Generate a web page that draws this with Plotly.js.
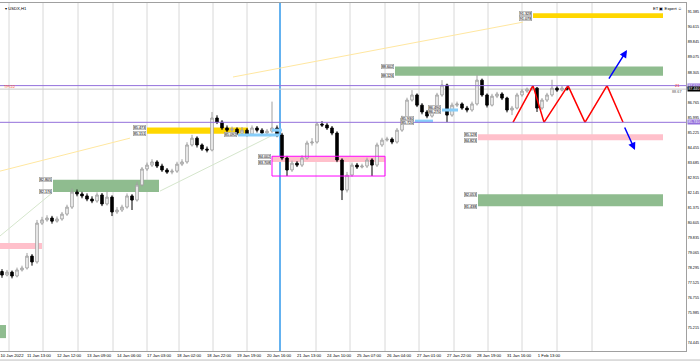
<!DOCTYPE html>
<html><head><meta charset="utf-8">
<script src="https://cdn.plot.ly/plotly-3.0.1.min.js"></script>
<style>html,body{margin:0;padding:0;background:#fff;}#chart{width:700px;height:362px;}</style>
</head><body><div id="chart"></div>
<script>
// ---- data ----
const symbolName = "▾ USDX,H1";
const expertName = "ET ▣ Expert ☺";
const xTickPos = [2.0, 7.4, 13.4, 19.4, 25.4, 31.4, 37.4, 43.4, 49.4, 55.4, 61.4, 67.4, 73.4, 79.4, 85.4, 91.4, 97.4, 103.4, 109.4];
const xTickLabels = ["10 Jan 2022","11 Jan 13:00","12 Jan 12:00","13 Jan 09:00","14 Jan 06:00","17 Jan 03:00","18 Jan 02:00","18 Jan 22:00","19 Jan 19:00","20 Jan 16:00","21 Jan 13:00","24 Jan 10:00","25 Jan 07:00","26 Jan 04:00","27 Jan 01:00","27 Jan 22:00","28 Jan 19:00","31 Jan 16:00","1 Feb 13:00"];
const daySeparators = [1.4, 8.2, 15.2, 22.2, 29, 35.4, 42.2, 49, 55.6, 62.8, 69.6, 76.6, 83.4, 90.4, 97.2, 104, 111, 118];
const yTicks = [91.385, 90.615, 89.845, 89.075, 88.305, 86.765, 85.995, 85.225, 84.455, 83.685, 82.915, 82.145, 81.375, 80.605, 79.835, 79.065, 78.295, 77.525, 76.755, 75.985, 75.215, 74.445];

const open = [78.10,77.92,78.07,77.87,78.18,78.28,78.89,78.59,80.58,80.74,
80.84,80.68,80.79,81.04,81.40,82.17,82.07,81.97,81.81,81.71,
82.02,81.56,81.91,81.15,81.25,81.40,81.97,81.76,82.53,83.35,
83.55,83.71,83.50,83.30,83.19,83.24,83.60,83.71,84.58,84.93,
84.58,84.37,84.32,85.96,85.75,85.45,85.34,85.39,85.19,85.34,
85.14,85.45,85.34,85.19,85.29,85.45,85.09,83.91,83.30,83.65,
83.55,83.91,84.68,84.73,85.65,85.60,85.45,85.19,83.81,82.27,
83.04,83.55,83.45,83.50,83.81,83.55,84.58,84.83,84.88,84.73,
85.34,85.96,86.88,87.14,86.62,86.27,86.06,86.37,87.14,87.65,
86.11,86.62,86.68,86.47,86.37,86.68,87.90,87.14,86.62,87.08,
87.19,86.98,86.37,86.47,87.14,87.34,87.44,87.49,86.47,86.88,
87.14,87.49,87.39,87.49];
const high = [78.22,78.18,78.15,78.30,78.40,79.05,78.99,80.74,80.90,80.98,
80.95,80.92,81.15,81.52,82.35,82.30,82.18,82.10,81.95,82.15,
82.12,82.22,82.00,81.40,81.52,82.10,82.06,82.70,83.45,83.68,
83.85,83.80,83.62,83.40,83.36,83.72,83.85,84.72,85.10,85.02,
84.66,84.50,86.27,86.10,85.85,85.58,85.52,85.48,85.50,85.44,
85.58,85.55,85.44,85.40,86.80,85.58,85.20,84.02,83.78,83.75,
84.05,84.80,84.93,85.75,85.80,85.70,85.55,85.28,83.90,83.20,
83.68,83.66,83.62,83.93,83.90,84.70,84.95,85.00,84.97,85.45,
86.08,87.00,87.39,87.22,86.72,86.37,86.50,87.25,87.90,87.72,
86.75,86.80,86.76,86.58,86.80,88.16,87.98,87.22,87.20,87.30,
87.28,87.05,86.58,87.25,87.45,87.52,87.58,87.55,86.98,87.25,
87.92,87.58,87.60,87.56];
const low = [77.78,77.85,77.75,77.80,78.10,78.20,78.40,78.50,80.48,80.65,
80.55,80.60,80.70,80.95,81.30,81.95,81.85,81.70,81.60,81.62,
81.45,81.48,80.94,81.05,81.15,81.32,81.25,81.68,82.45,83.25,
83.45,83.40,83.20,83.10,83.08,83.15,83.50,83.62,84.50,84.45,
84.28,84.20,84.25,85.65,85.35,85.22,85.25,85.08,85.10,85.02,
85.05,85.22,85.08,85.10,85.20,84.98,83.80,82.99,83.20,83.45,
83.45,83.82,84.55,84.65,85.50,85.35,85.08,83.70,81.76,82.15,
82.95,83.35,83.38,83.40,82.99,83.45,84.48,84.75,84.62,84.65,
85.25,85.88,86.80,86.52,86.15,85.95,85.98,86.28,87.05,85.75,
86.02,86.52,86.38,86.25,86.28,86.60,87.05,86.50,86.55,86.98,
86.88,86.25,86.11,86.40,87.05,87.25,87.35,86.27,86.38,86.78,
87.05,87.30,87.32,87.36];
const close = [77.92,78.07,77.87,78.18,78.28,78.89,78.59,80.58,80.74,80.84,
80.68,80.79,81.04,81.40,82.17,82.07,81.97,81.81,81.71,82.02,
81.56,81.91,81.15,81.25,81.40,81.97,81.76,82.53,83.35,83.55,
83.71,83.50,83.30,83.19,83.24,83.60,83.71,84.58,84.93,84.58,
84.37,84.32,85.96,85.75,85.45,85.34,85.39,85.19,85.34,85.14,
85.45,85.34,85.19,85.29,85.45,85.09,83.91,83.30,83.65,83.55,
83.91,84.68,84.73,85.65,85.60,85.45,85.19,83.81,82.27,83.04,
83.55,83.45,83.50,83.81,83.55,84.58,84.83,84.88,84.73,85.34,
85.96,86.88,87.14,86.62,86.27,86.06,86.37,87.14,87.65,86.11,
86.62,86.68,86.47,86.37,86.68,87.90,87.14,86.62,87.08,87.19,
86.98,86.37,86.47,87.14,87.34,87.44,87.49,86.47,86.88,87.14,
87.49,87.39,87.49,87.44];

// zones: [startBar, endBar, topPrice, bottomPrice, hasLabels]
const greenZones = [[-0.4, 0.8, 75.36, 74.69, 0], [10.2, 31.4, 82.805, 82.176, 1], [78.6, 132.2, 88.602, 88.126, 1], [95.2, 132.2, 82.053, 81.438, 1]];
const pinkZones = [[-0.4, 8, 79.56, 79.25, 0], [54, 76.6, 84.002, 83.708, 1], [95.2, 132.2, 85.128, 84.823, 1]];
const goldZones = [[29, 49.2, 85.473, 85.151, 1], [106.2, 132.2, 91.328, 91.078, 1]];
const magentaBox = [54, 76.6, 84.002, 82.99];
// light blue level segments: [startBar, endBar, price]
const blueLevels = [[47.2, 55.6, 85.09], [54, 56, 85.34], [82.6, 86.2, 85.80], [88, 91.2, 86.37]];
const blueLevelLabels = [[47.2, 85.092], [82.6, 85.93], [82.6, 85.72], [88, 86.49], [88, 86.27]];
const resistance = 87.62;
const support = 85.74;
const bidPrice = 87.44;
const markerBar = 55.6;
const zigX = [102.2, 106.2, 108.4, 113.2, 116.6, 121, 124.2];
const zigY = [85.74, 87.62, 85.74, 87.62, 85.74, 87.62, 85.74];
const arrowUp = [121.2, 87.90, 125, 89.44];
const arrowDown = [124.4, 85.55, 126.6, 84.32];
const yellowTrendA = {x: [-0.4, 25.6], y: [83.24, 84.93]};
const yellowTrendB = {x: [46.2, 104.2], y: [88.06, 90.87]};
const greenTrendA = {x: [-0.4, 10], y: [79.92, 82.12]};
const greenTrendB = {x: [31.6, 54.6], y: [82.22, 85.14]};

// ---- drawing ----
const FONT = 'Liberation Sans, Arial, sans-serif';
const FS = 4.2;
const AX = 3.7;
const bars = open.map((_, i) => i);
const traces = [];
[[yellowTrendA, '#FFE7A0'], [yellowTrendB, '#FFE7A0'], [greenTrendA, '#D5E6CC'], [greenTrendB, '#D5E6CC']].forEach(([t, c]) => {
  traces.push({type: 'scatter', mode: 'lines', x: t.x, y: t.y, line: {color: c, width: 1}, hoverinfo: 'skip', showlegend: false});
});
blueLevels.forEach(b => {
  traces.push({type: 'scatter', mode: 'lines', x: [b[0], b[1]], y: [b[2], b[2]], line: {color: '#87CEFA', width: 3}, hoverinfo: 'skip', showlegend: false});
});
traces.push({
  type: 'candlestick', x: bars, open: open, high: high, low: low, close: close,
  increasing: {line: {color: '#a0a0a0', width: 1}, fillcolor: '#ffffff'},
  decreasing: {line: {color: '#000000', width: 1}, fillcolor: '#000000'},
  whiskerwidth: 0, hoverinfo: 'skip', showlegend: false
});
traces.push({type: 'scatter', mode: 'lines', x: zigX, y: zigY, line: {color: '#FF0000', width: 1.5}, hoverinfo: 'skip', showlegend: false});

const shapes = [];
daySeparators.forEach(d => shapes.push({type: 'line', xref: 'x', yref: 'paper', x0: d, x1: d, y0: 0, y1: 1, line: {color: '#d8d8d8', width: 1}, layer: 'below'}));
shapes.push({type: 'line', xref: 'x', yref: 'paper', x0: markerBar, x1: markerBar, y0: 0, y1: 1, line: {color: '#64B2F0', width: 2}, layer: 'below'});
shapes.push({type: 'line', xref: 'paper', yref: 'y', x0: 0, x1: 1, y0: bidPrice, y1: bidPrice, line: {color: '#c8c8c8', width: 1}, layer: 'below'});
const annotations = [];
function zoneLabel(x, p) {
  annotations.push({x: x, y: p, xref: 'x', yref: 'y', text: p.toFixed(3), showarrow: false, xanchor: 'right', yanchor: 'middle',
    font: {family: FONT, size: 3.8, color: '#000'}, bgcolor: '#f2f2f2', bordercolor: '#8a8a8a', borderwidth: 0.5, borderpad: 0.2});
}
function addZones(list, color) {
  list.forEach(z => {
    shapes.push({type: 'rect', xref: 'x', yref: 'y', x0: z[0], x1: z[1], y0: z[3], y1: z[2], fillcolor: color, line: {width: 0}, layer: 'below'});
    if (z[4]) { zoneLabel(z[0] - 0.2, z[2]); zoneLabel(z[0] - 0.2, z[3]); }
  });
}
addZones(greenZones, '#8FBC8F');
addZones(pinkZones, '#FFC0CB');
addZones(goldZones, '#FFD700');
shapes.push({type: 'rect', xref: 'x', yref: 'y', x0: magentaBox[0], x1: magentaBox[1], y0: magentaBox[3], y1: magentaBox[2], line: {color: '#FF00FF', width: 1}, fillcolor: 'rgba(0,0,0,0)', layer: 'above'});
blueLevelLabels.forEach(l => zoneLabel(l[0] - 0.2, l[1]));
[resistance, support].forEach(p => shapes.push({type: 'line', xref: 'paper', yref: 'y', x0: 0, x1: 1, y0: p, y1: p, line: {color: '#9370DB', width: 1}, layer: 'above'}));
shapes.push({type: 'line', xref: 'paper', yref: 'paper', x0: 0, x1: 700 / 686, y0: -0.026, y1: -0.026, line: {color: '#bdbdbd', width: 1}});

[arrowUp, arrowDown].forEach(a => annotations.push({x: a[2], y: a[3], ax: a[0], ay: a[1], xref: 'x', yref: 'y', axref: 'x', ayref: 'y',
  text: '', showarrow: true, arrowhead: 2, arrowsize: 1, arrowwidth: 1.5, arrowcolor: '#0000FF'}));

function priceTag(p, bg) {
  annotations.push({x: 1.0015, y: p, xref: 'paper', yref: 'y', xanchor: 'left', yanchor: 'middle', text: p.toFixed(3), showarrow: false,
    font: {family: FONT, size: AX, color: '#ffffff'}, bgcolor: bg, borderpad: 0.2});
}
priceTag(resistance, '#9370DB');
priceTag(support, '#9370DB');
priceTag(bidPrice, '#000000');
annotations.push({x: 0.994, y: resistance, xref: 'paper', yref: 'y', xanchor: 'right', yanchor: 'middle', text: '21', showarrow: false, font: {family: FONT, size: FS, color: '#FF3030'}});
annotations.push({x: 0.997, y: 87.27, xref: 'paper', yref: 'y', xanchor: 'right', yanchor: 'middle', text: '88.67', showarrow: false, font: {family: FONT, size: 3.8, color: '#555'}});
annotations.push({x: 0.003, y: 87.56, xref: 'paper', yref: 'y', xanchor: 'left', yanchor: 'middle', text: 'TP/22', showarrow: false, font: {family: FONT, size: FS, color: '#FF5A2A'}});
annotations.push({x: 0.004, y: 0.998, xref: 'paper', yref: 'paper', xanchor: 'left', yanchor: 'top', text: symbolName, showarrow: false, font: {family: FONT, size: FS, color: '#000'}});
annotations.push({x: 0.997, y: 0.998, xref: 'paper', yref: 'paper', xanchor: 'right', yanchor: 'top', text: expertName, showarrow: false, font: {family: FONT, size: FS, color: '#000'}});

const layout = {
  width: 700, height: 362,
  margin: {l: 0, r: 14, t: 3, b: 11, pad: 0},
  paper_bgcolor: '#ffffff', plot_bgcolor: '#ffffff',
  showlegend: false, hovermode: false,
  font: {family: FONT, size: FS, color: '#000'},
  xaxis: {range: [-0.4, 136.8], showgrid: false, zeroline: false, showline: true, mirror: true, linecolor: '#a0a0a0', linewidth: 1,
    tickmode: 'array', tickvals: xTickPos, ticktext: xTickLabels, ticks: '', tickangle: 0,
    tickfont: {family: FONT, size: FS, color: '#000'}, rangeslider: {visible: false}, fixedrange: true, automargin: false},
  yaxis: {range: [74.03, 91.85], side: 'right', showgrid: false, zeroline: false, showline: true, mirror: true, linecolor: '#a0a0a0', linewidth: 1,
    tickmode: 'array', tickvals: yTicks, ticktext: yTicks.map(v => v.toFixed(3)), ticks: '', ticklabelstandoff: 0,
    tickfont: {family: FONT, size: AX, color: '#000'}, fixedrange: true, automargin: false},
  shapes: shapes, annotations: annotations
};
Plotly.newPlot('chart', traces, layout, {displayModeBar: false, staticPlot: true});
</script>
</body></html>
